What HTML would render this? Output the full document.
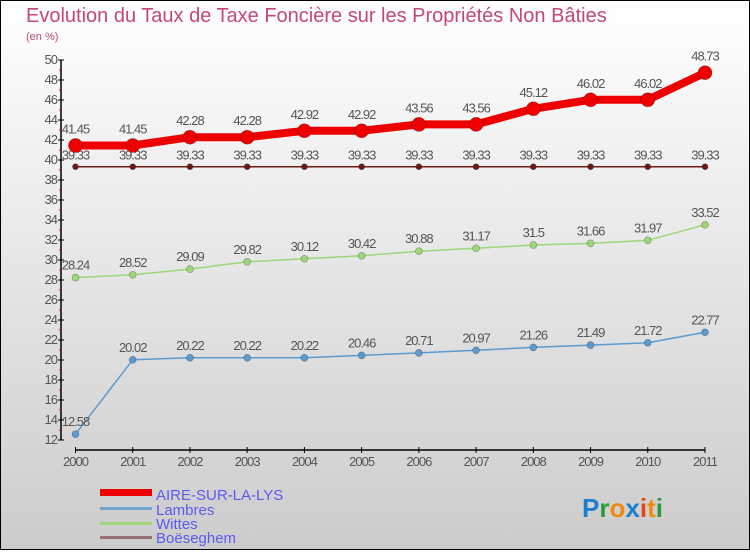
<!DOCTYPE html>
<html><head><meta charset="utf-8"><style>
body{margin:0;}
#wrap{width:750px;height:550px;position:relative;font-family:"Liberation Sans",sans-serif;}
</style></head><body>
<div id="wrap">
<svg id="chart" width="750" height="550" xmlns="http://www.w3.org/2000/svg">
<defs><linearGradient id="bg" x1="0" y1="0" x2="0" y2="1"><stop offset="0" stop-color="#ffffff"/><stop offset="1" stop-color="#cccccc"/></linearGradient></defs>
<rect x="0.5" y="0.5" width="749" height="549" fill="url(#bg)" stroke="#000"/>
<text x="26" y="22" font-size="20" fill="#c4477a">Evolution du Taux de Taxe Foncière sur les Propriétés Non Bâties</text>
<text x="26" y="40" font-size="11" fill="#c4477a">(en %)</text>
<g id="axes"></g><g id="series"></g>
<g>
<rect x="100" y="489" width="52" height="7" fill="#ee0000"/>
<text x="156" y="500" font-size="15" fill="#5b5bf0">AIRE-SUR-LA-LYS</text>
<rect x="100" y="507" width="52" height="3" fill="#6fa5d0"/>
<text x="156" y="515" font-size="15" fill="#5b5bf0">Lambres</text>
<rect x="100" y="522" width="52" height="3" fill="#9ed67a"/>
<text x="156" y="529" font-size="15" fill="#5b5bf0">Wittes</text>
<rect x="100" y="536" width="52" height="3" fill="#957070"/>
<text x="156" y="543" font-size="15" fill="#5b5bf0">Boëseghem</text>
</g>
<text x="582" y="517" font-size="26" font-weight="bold"><tspan fill="#1a7fd0">P</tspan><tspan fill="#2a9a3a">r</tspan><tspan fill="#f08a10">o</tspan><tspan fill="#1a7fd0">x</tspan><tspan fill="#e04a10">i</tspan><tspan fill="#f08a10">t</tspan><tspan fill="#2a9a3a">i</tspan></text>
</svg>
</div>
<script>
const years = [2000,2001,2002,2003,2004,2005,2006,2007,2008,2009,2010,2011];
const aire = [41.45,41.45,42.28,42.28,42.92,42.92,43.56,43.56,45.12,46.02,46.02,48.73];
const lambres = [12.58,20.02,20.22,20.22,20.22,20.46,20.71,20.97,21.26,21.49,21.72,22.77];
const wittes = [28.24,28.52,29.09,29.82,30.12,30.42,30.88,31.17,31.5,31.66,31.97,33.52];
const boeseghem = [39.33,39.33,39.33,39.33,39.33,39.33,39.33,39.33,39.33,39.33,39.33,39.33];
const yTicks = [12,14,16,18,20,22,24,26,28,30,32,34,36,38,40,42,44,46,48,50];
const NS="http://www.w3.org/2000/svg";
const X0=75.5,X1=705,Y0=440,Y1=60,YMIN=12,YMAX=50;
const xs=i=>X0+(X1-X0)*i/(years.length-1);
const ys=v=>Y0-(v-YMIN)*(Y0-Y1)/(YMAX-YMIN);
function mk(tag,attrs,parent){const e=document.createElementNS(NS,tag);for(const k in attrs)e.setAttribute(k,attrs[k]);parent.appendChild(e);return e;}
const ax=document.getElementById('axes');
let l=mk('line',{x1:61,y1:Y1,x2:61,y2:Y0,stroke:'#000','stroke-width':1.5},ax);


l=mk('line',{x1:X0,y1:450,x2:X1,y2:450,stroke:'#000','stroke-width':1.5},ax);


yTicks.forEach(v=>{
 const y=ys(v);
 mk('line',{x1:58,y1:y,x2:64,y2:y,stroke:'#000'},ax);
 if(v<YMAX) mk('line',{x1:59,y1:ys(v+1),x2:62,y2:ys(v+1),stroke:'#e00'},ax);
 const t=mk('text',{x:57,y:y+4,'font-size':13,fill:'#555','text-anchor':'end','letter-spacing':'-1'},ax);
 t.textContent=v;
 
 
});
years.forEach((yr,i)=>{
 const x=xs(i);
 mk('line',{x1:x,y1:447,x2:x,y2:453,stroke:'#000'},ax);
 const t=mk('text',{x:x,y:466,'font-size':13,fill:'#555','text-anchor':'middle','letter-spacing':'-1'},ax);
 t.textContent=yr;
 
 
});
const sg=document.getElementById('series');
function draw(data,name,color,width,r,labelDy){
 const g=mk('g',{},sg);
 
 
 const p=mk('polyline',{points:data.map((v,i)=>xs(i)+','+ys(v)).join(' '),fill:'none',stroke:color,'stroke-width':width,'stroke-linejoin':'round'},g);
 
 
 data.forEach((v,i)=>{
  const c=mk('circle',{cx:xs(i),cy:ys(v),r:r,fill:color,stroke:'rgba(0,0,0,0.3)','stroke-width':0.7},g);
  
  
  const t=mk('text',{x:xs(i),y:ys(v)+labelDy,'font-size':13,fill:'#555','text-anchor':'middle','letter-spacing':'-1'},g);
  t.textContent=v;
  
  
 });
}
draw(boeseghem,'boeseghem','#6b1a1a',1.5,3,-7);
draw(wittes,'wittes','#9ed67a',1.5,3.5,-8);
draw(lambres,'lambres','#5b9bd0',1.5,3.5,-8);
draw(aire,'aire','#ee0000',8,7,-12);
</script>
</body></html>
